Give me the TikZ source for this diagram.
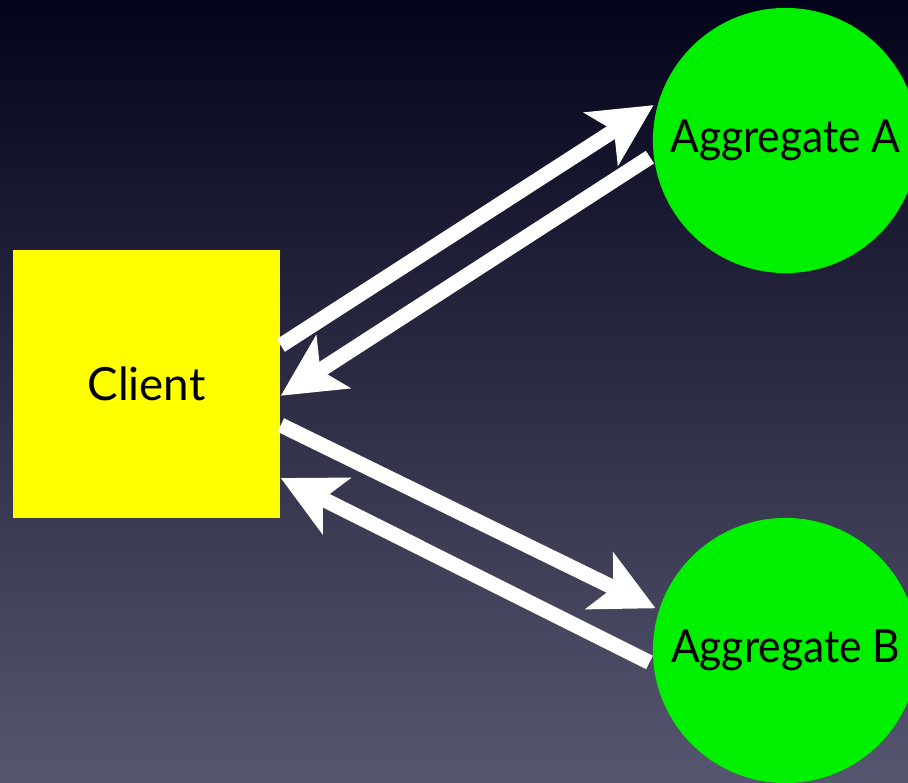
\documentclass[tikz,border=0pt]{standalone}
\usepackage{fontspec}
\setmainfont{Lato}
\newfontfamily\aggfont{Lato}[FakeStretch=0.93]
\usetikzlibrary{arrows.meta}

\definecolor{bgtop}{HTML}{03031A}
\definecolor{bgmid}{HTML}{242840}
\definecolor{bgbot}{HTML}{575670}
\definecolor{clientyellow}{HTML}{FFFF00}
\definecolor{agggreen}{HTML}{00F000}

\begin{document}
\begin{tikzpicture}[x=0.01cm,y=-0.01cm,
	flow/.style={draw=white,line width=0.15cm,-{Stealth[length=0.62cm,width=0.62cm,inset=0.15cm]}},
	label/.style={font=\fontsize{13}{15}\selectfont,text=black},
	box/.style={rectangle,fill=clientyellow,minimum size=2.67cm,inner sep=0pt,label},
	agg/.style={circle,fill=agggreen,minimum size=2.65cm,inner sep=0pt,outer sep=0.04cm,label,font=\fontsize{13}{15}\aggfont}]

\shade[top color=bgtop,middle color=bgmid,bottom color=bgbot] (0,0) rectangle (908,783);
\useasboundingbox (0,0) rectangle (908,783);

\node[box]   (client)    at (146.5,384)     {Client};
\node[agg]   (aggA)      at (785.5,140.5)   {Aggregate A};
\node[agg]   (aggB)      at (785.5,650.5)   {Aggregate B};

	\draw[flow] (client.16.7)  -- (aggA.165);
	\draw[flow] (aggA.187.4)   -- (client.-5.6);
	\draw[flow] (client.-17)   -- (aggB.162);
	\draw[flow] (aggB.185.7)   -- (client.-35.2);
\end{tikzpicture}
\end{document}
